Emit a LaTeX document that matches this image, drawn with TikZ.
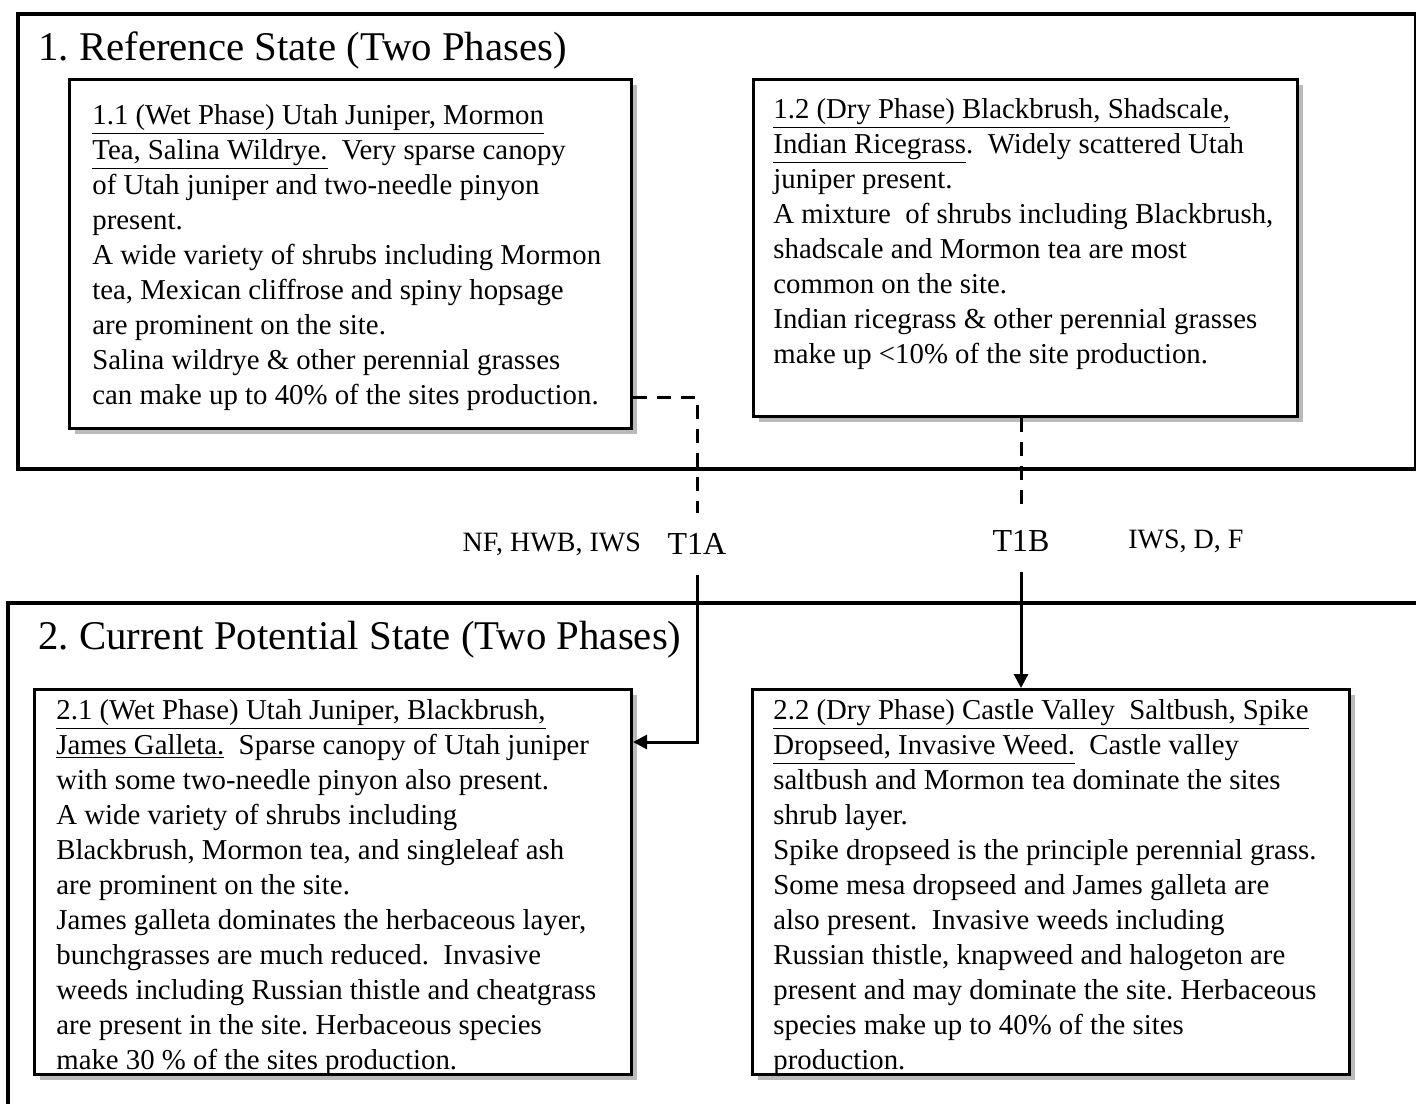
\documentclass[tikz,border=0pt]{standalone}
\usepackage{fontspec}
\setmainfont{Liberation Serif}
\usetikzlibrary{positioning,shadows,arrows.meta}
\frenchspacing

\begin{document}
\begin{tikzpicture}
[x=0.5pt,y=-0.5pt,
state/.style={draw,line width=2pt,rectangle,inner sep=0pt,anchor=north west},
statetitle/.style={anchor=west,inner sep=0pt,
                   font=\fontsize{20.4}{24}\selectfont},
phase/.style={draw,line width=1.5pt,fill=white,inner sep=0pt,
              anchor=north west,
              drop shadow={shadow xshift=2.5pt,shadow yshift=-2.5pt,
                           fill=black!45,opacity=0.6}},
phasetext/.style={anchor=north west,inner sep=0pt,align=left,
                  font=\fontsize{14.4}{17.5}\selectfont},
trans/.style={line width=1.5pt},
translabel/.style={inner xsep=0pt,inner ysep=10pt,
                   font=\fontsize{16}{18}\selectfont},
agents/.style={inner sep=0pt,font=\fontsize{14}{16}\selectfont}]

\useasboundingbox[fill=white] (0,0) rectangle (1416,1104);

% 1. reference state
\node[state,minimum width=699pt,minimum height=227.5pt] (ref) at (16,12) {};
\node[statetitle] (reftitle) at (38,50) {1. Reference State (Two Phases)};

\node[phase,minimum width=281pt,minimum height=174.5pt] (p11) at (68,78) {};
\node[phasetext] (t11) at ([xshift=12pt,yshift=-13pt]p11.north west)
  {\underline{1.1 (Wet Phase) Utah Juniper, Mormon}\\
   \underline{Tea, Salina Wildrye.}~ Very sparse canopy\\
   of Utah juniper and two-needle pinyon\\
   present.\\
   A wide variety of shrubs including Mormon\\
   tea, Mexican cliffrose and spiny hopsage\\
   are prominent on the site.\\
   Salina wildrye \& other perennial grasses\\
   can make up to 40\% of the sites production.};

\node[phase,minimum width=272pt,minimum height=168.5pt] (p12) at (752,78) {};
\node[phasetext] (t12) at ([xshift=10.5pt,yshift=-10pt]p12.north west)
  {\underline{1.2 (Dry Phase) Blackbrush, Shadscale,}\\
   \underline{Indian Ricegrass}.~ Widely scattered Utah\\
   juniper present.\\
   A mixture~ of shrubs including Blackbrush,\\
   shadscale and Mormon tea are most\\
   common on the site.\\
   Indian ricegrass \& other perennial grasses\\
   make up <10\% of the site production.};

% 2. current potential state
\draw[state] (8,1104) |- (1416,603);
\node[statetitle] (curtitle) at (38,640) {2. Current Potential State (Two Phases)};

\node[phase,minimum width=298.5pt,minimum height=192.5pt] (p21) at (33,688) {};
\node[phasetext] (t21) at ([xshift=11.5pt,yshift=-5.5pt]p21.north west)
  {\underline{2.1 (Wet Phase) Utah Juniper, Blackbrush,}\\
   \underline{James Galleta.}~ Sparse canopy of Utah juniper\\
   with some two-needle pinyon also present.\\
   A wide variety of shrubs including\\
   Blackbrush, Mormon tea, and singleleaf ash\\
   are prominent on the site.\\
   James galleta dominates the herbaceous layer,\\
   bunchgrasses are much reduced.~ Invasive\\
   weeds including Russian thistle and cheatgrass\\
   are present in the site. Herbaceous species\\
   make 30 \% of the sites production.};

\node[phase,minimum width=298.5pt,minimum height=192.5pt] (p22) at (751,688) {};
\node[phasetext] (t22) at ([xshift=11pt,yshift=-5.5pt]p22.north west)
  {\underline{2.2 (Dry Phase) Castle Valley~ Saltbush, Spike}\\
   \underline{Dropseed, Invasive Weed.}~ Castle valley\\
   saltbush and Mormon tea dominate the sites\\
   shrub layer.\\
   Spike dropseed is the principle perennial grass.\\
   Some mesa dropseed and James galleta are\\
   also present.~ Invasive weeds including\\
   Russian thistle, knapweed and halogeton are\\
   present and may dominate the site. Herbaceous\\
   species make up to 40\% of the sites\\
   production.};

% transitions
\node[translabel] (t1a) at (697,544) {T1A};
\node[agents,left=13pt of t1a] (agA) {NF, HWB, IWS};
\node[translabel] (t1b) at (1021,541) {T1B};
\node[agents,right=39pt of t1b] (agB) {IWS, D, F};

\draw[trans,dash pattern=on 7pt off 5pt]
  ([yshift=16.5pt]p11.south east) -| (t1a.north);
\draw[trans,-{Triangle[length=7pt,width=7pt]}]
  (t1a.south) |- ([yshift=-27pt]p21.north east);
\draw[trans,dash pattern=on 7pt off 5pt]
  (t1b.north |- p12.south) -- (t1b.north);
\draw[trans,-{Triangle[length=7pt,width=7pt]}]
  (t1b.south) -- (t1b.south |- p22.north);
\end{tikzpicture}
\end{document}
